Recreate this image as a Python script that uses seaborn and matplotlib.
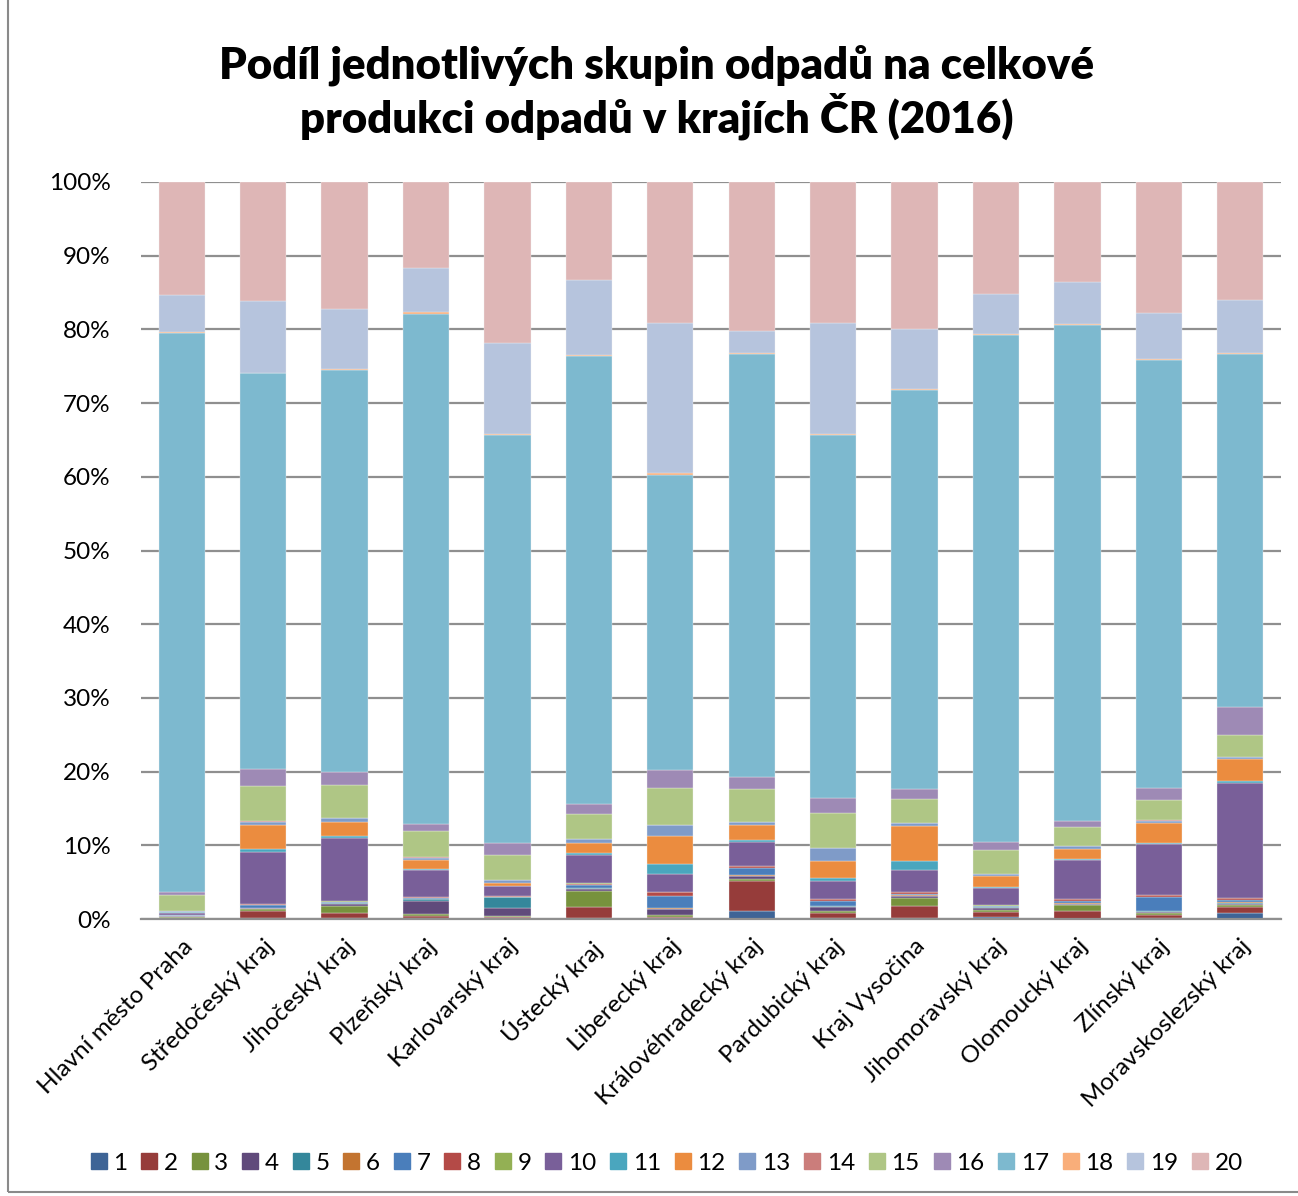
import matplotlib
matplotlib.use("Agg")
import matplotlib.pyplot as plt
from matplotlib.lines import Line2D
from matplotlib.patches import Rectangle
from matplotlib.ticker import FuncFormatter
import pandas as pd
import seaborn as sns

REGIONS = [
    "Hlavní město Praha", "Středočeský kraj", "Jihočeský kraj", "Plzeňský kraj",
    "Karlovarský kraj", "Ústecký kraj", "Liberecký kraj", "Královéhradecký kraj",
    "Pardubický kraj", "Kraj Vysočina", "Jihomoravský kraj", "Olomoucký kraj",
    "Zlínský kraj", "Moravskoslezský kraj",
]
GROUPS = [str(i) for i in range(1, 21)]

# share of each waste group (1..20) in % per region
PRAHA = [0.05, 0.1, 0.1, 0.15, 0.02, 0.03, 0.05, 0.03, 0.05, 0.3, 0.05, 0.05, 0.1, 0.02, 2.1, 0.5, 75.8, 0.2, 5.0, 15.3]
STREDOCESKY = [0.1, 0.95, 0.3, 0.1, 0.05, 0.05, 0.3, 0.15, 0.05, 7.0, 0.4, 3.3, 0.45, 0.05, 4.85, 2.25, 53.7, 0.1, 9.7, 16.15]
JIHOCESKY = [0.15, 0.7, 0.9, 0.35, 0.05, 0.05, 0.1, 0.05, 0.1, 8.55, 0.25, 1.85, 0.6, 0.05, 4.45, 1.75, 54.55, 0.1, 8.2, 17.2]
PLZENSKY = [0.1, 0.3, 0.25, 1.85, 0.15, 0.05, 0.1, 0.15, 0.05, 3.6, 0.15, 1.25, 0.3, 0.05, 3.6, 0.95, 69.2, 0.2, 6.0, 11.7]
KARLOVARSKY = [0.1, 0.2, 0.1, 1.15, 1.4, 0.05, 0.05, 0.05, 0.05, 1.3, 0.05, 0.45, 0.35, 0.0, 3.35, 1.7, 55.35, 0.1, 12.35, 21.85]
USTECKY = [0.15, 1.5, 2.15, 0.25, 0.1, 0.05, 0.4, 0.2, 0.05, 3.85, 0.25, 1.3, 0.6, 0.0, 3.4, 1.35, 60.8, 0.1, 10.2, 13.3]
LIBERECKY = [0.1, 0.2, 0.2, 0.8, 0.1, 0.15, 1.55, 0.5, 0.05, 2.45, 1.4, 3.7, 1.5, 0.05, 5.05, 2.4, 40.05, 0.2, 20.4, 19.15]
KRALOVEHRADECKY = [1.1, 4.1, 0.25, 0.35, 0.1, 0.05, 0.95, 0.3, 0.05, 3.2, 0.25, 2.0, 0.45, 0.05, 4.45, 1.55, 57.45, 0.1, 3.05, 20.2]
PARDUBICKY = [0.15, 0.7, 0.25, 0.55, 0.05, 0.1, 0.6, 0.25, 0.05, 2.5, 0.4, 2.3, 1.75, 0.0, 4.75, 2.05, 49.25, 0.15, 15.0, 19.15]
VYSOCINA = [0.1, 1.65, 1.1, 0.25, 0.05, 0.05, 0.25, 0.2, 0.05, 2.9, 1.3, 4.75, 0.35, 0.0, 3.25, 1.4, 54.15, 0.1, 8.15, 19.95]
JIHOMORAVSKY = [0.25, 0.75, 0.25, 0.3, 0.05, 0.05, 0.1, 0.05, 0.05, 2.35, 0.1, 1.55, 0.3, 0.0, 3.2, 1.1, 68.8, 0.15, 5.4, 15.2]
OLOMOUCKY = [0.05, 1.1, 0.75, 0.15, 0.05, 0.05, 0.3, 0.2, 0.05, 5.3, 0.15, 1.35, 0.45, 0.0, 2.55, 0.85, 67.25, 0.1, 5.75, 13.55]
ZLINSKY = [0.1, 0.4, 0.35, 0.1, 0.15, 0.05, 1.85, 0.2, 0.05, 6.9, 0.2, 2.65, 0.35, 0.05, 2.7, 1.7, 58.05, 0.15, 6.2, 17.8]
MORAVSKOSLEZSKY = [0.85, 0.75, 0.3, 0.2, 0.1, 0.05, 0.3, 0.25, 0.05, 15.65, 0.25, 2.9, 0.35, 0.0, 2.95, 3.75, 47.95, 0.15, 7.2, 16.0]

REGION_VALUES = [
    PRAHA, STREDOCESKY, JIHOCESKY, PLZENSKY, KARLOVARSKY, USTECKY, LIBERECKY,
    KRALOVEHRADECKY, PARDUBICKY, VYSOCINA, JIHOMORAVSKY, OLOMOUCKY, ZLINSKY,
    MORAVSKOSLEZSKY,
]

COLORS = [
    "#3E6496", "#963C3A", "#77923D", "#604A7B", "#34879B", "#C37430",
    "#4A7EBB", "#B44A47", "#93B054", "#795F99", "#4AA6BE", "#EB8C3F",
    "#7F9BC8", "#CB7D7B", "#AFC685", "#9E8AB5", "#7DB9CF", "#F9AE7A",
    "#B6C4DD", "#DEB6B6",
]

TITLE = "Podíl jednotlivých skupin odpadů na celkové\nprodukci odpadů v krajích ČR (2016)"


def build_frame() -> pd.DataFrame:
    rows = []
    for region, values in zip(REGIONS, REGION_VALUES):
        for group, value in zip(GROUPS, values):
            rows.append({"region": region, "group": group, "value": value})
    df = pd.DataFrame(rows)
    df["region"] = pd.Categorical(df["region"], categories=REGIONS, ordered=True)
    return df


def main() -> None:
    sns.set_theme(style="white")
    plt.rcParams["font.family"] = ["Lato", "DejaVu Sans"]
    plt.rcParams["text.color"] = "black"
    plt.rcParams["xtick.color"] = "black"
    plt.rcParams["ytick.color"] = "black"

    df = build_frame()
    palette = dict(zip(GROUPS, COLORS))

    fig = plt.figure(figsize=(12.98, 11.96), dpi=100)
    ax = fig.add_axes([141 / 1298, 1 - 919 / 1196, 1140 / 1298, 737 / 1196])

    # 100 % stacked bars: first group at the bottom
    sns.histplot(
        data=df, x="region", hue="group", weights="value",
        hue_order=GROUPS[::-1], palette=palette, multiple="fill",
        discrete=True, shrink=0.57, alpha=1, legend=False,
        edgecolor="#F2F2F2", linewidth=0.25, ax=ax,
    )

    ax.set_ylim(0, 1)
    ax.set_xlim(-0.5, len(REGIONS) - 0.5)
    ax.set_yticks([i / 10 for i in range(11)])
    ax.yaxis.set_major_formatter(FuncFormatter(lambda v, _: f"{v:.0%}"))
    ax.set_xticks(range(len(REGIONS)))
    ax.set_xticklabels(REGIONS, rotation=45, ha="right", rotation_mode="anchor")
    ax.tick_params(axis="x", length=0, labelsize=17.5, pad=12)
    ax.tick_params(axis="y", length=0, labelsize=17.5, pad=22)
    ax.set_xlabel("")
    ax.set_ylabel("")

    ax.yaxis.grid(True, color="#8F8F8F", linewidth=1.6)
    ax.set_axisbelow(True)
    for side in ("left", "right", "top"):
        ax.spines[side].set_visible(False)
    ax.spines["bottom"].set_color("#8F8F8F")
    ax.spines["bottom"].set_linewidth(1.6)

    fig.text(0.506, 1 - 92 / 1196, TITLE, ha="center", va="center",
             fontsize=31.5, fontweight="heavy", linespacing=1.15)

    handles = [
        Line2D([], [], marker="s", linestyle="", markersize=12,
               markerfacecolor=c, markeredgecolor=c, label=g)
        for g, c in zip(GROUPS, COLORS)
    ]
    fig.legend(handles=handles, loc="center", bbox_to_anchor=(0.512, 1 - 1163 / 1196),
               ncol=20, frameon=False, fontsize=17.5, handletextpad=0.1,
               columnspacing=0.4, handlelength=1.0)

    fig.add_artist(Rectangle((8 / 1298, 4 / 1196), 1.1, 1.1, transform=fig.transFigure,
                             fill=False, edgecolor="#8A8A8A", linewidth=1.5))

    fig.savefig("out.png", dpi=100)
    plt.close(fig)


if __name__ == "__main__":
    main()
